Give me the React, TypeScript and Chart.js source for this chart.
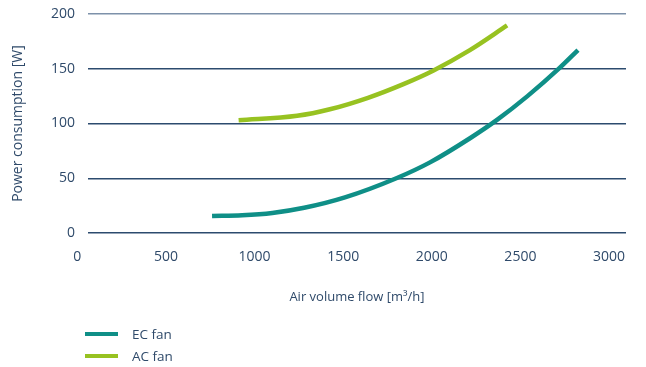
import React, { useEffect, useRef } from "react";
import { Chart, registerables } from "chart.js";

Chart.register(...registerables);

const ecFlow = [760, 930, 1100, 1280, 1510, 1800, 1990, 2220, 2370, 2540, 2720, 2825];
const ecPower = [15.5, 16.2, 18.3, 23, 32.5, 50, 64.5, 87, 103.5, 125, 150.5, 167];
const acFlow = [910, 1240, 1425, 1640, 1840, 2010, 2215, 2425];
const acPower = [103, 107, 113, 123.5, 136, 148.5, 167, 189.5];
const xTicks = [0, 500, 1000, 1500, 2000, 2500, 3000];
const yTicks = [0, 50, 100, 150, 200];
const seriesNames = ["EC fan", "AC fan"];
const seriesColors = ["#0f8f87", "#97c221"];

const FONT = "'Open Sans', sans-serif";
const TEXT = "#2f4a6a";

export default function App() {
  const ref = useRef<HTMLCanvasElement | null>(null);

  useEffect(() => {
    if (!ref.current) return;
    const chart = new Chart(ref.current, {
      type: "line",
      data: {
        datasets: [
          {
            label: seriesNames[0],
            data: ecFlow.map((x, i) => ({ x, y: ecPower[i] })),
            borderColor: seriesColors[0],
            borderWidth: 4.5,
            pointRadius: 0,
            cubicInterpolationMode: "monotone",
            borderCapStyle: "butt",
          },
          {
            label: seriesNames[1],
            data: acFlow.map((x, i) => ({ x, y: acPower[i] })),
            borderColor: seriesColors[1],
            borderWidth: 4.5,
            pointRadius: 0,
            cubicInterpolationMode: "monotone",
            borderCapStyle: "butt",
          },
        ],
      },
      options: {
        animation: false,
        responsive: false,
        layout: { padding: { top: 14, left: 0, right: 20, bottom: 0 } },
        plugins: { legend: { display: false }, tooltip: { enabled: false } },
        scales: {
          x: {
            type: "linear",
            min: 60,
            max: 3096,
            afterBuildTicks: (scale: any) => {
              scale.ticks = xTicks.map((v) => ({ value: v }));
            },
            afterFit: (scale: any) => {
              scale.height = 134;
            },
            grid: { display: false, drawTicks: false },
            border: { display: false },
            ticks: {
              color: TEXT,
              font: { family: FONT, size: 14 },
              padding: 16,
              maxRotation: 0,
              autoSkip: false,
              callback: (v: any) => String(v),
            },
            title: {
              display: true,
              text: "Air volume flow [m³/h]",
              color: TEXT,
              font: { family: FONT, size: 13 },
              padding: { top: 0, bottom: 62 },
            },
          },
          y: {
            type: "linear",
            min: 0,
            max: 200,
            afterBuildTicks: (scale: any) => {
              scale.ticks = yTicks.map((v) => ({ value: v }));
            },
            afterFit: (scale: any) => {
              scale.width = 88;
              scale.paddingTop = 0;
              scale.paddingBottom = 0;
            },
            grid: {
              drawTicks: false,
              color: (ctx: any) => (ctx.tick && ctx.tick.value === 200 ? "#7d91aa" : "#2c4b6e"),
              lineWidth: 1.5,
            },
            border: { display: false },
            ticks: {
              color: TEXT,
              font: { family: FONT, size: 14 },
              padding: 13,
              callback: (v: any) => String(v),
            },
            title: {
              display: true,
              text: "Power consumption [W]",
              color: TEXT,
              font: { family: FONT, size: 14 },
              padding: { top: 10, bottom: 0 },
            },
          },
        },
      },
    });
    return () => chart.destroy();
  }, []);

  return (
    <div style={{ position: "fixed", left: 0, top: 0, width: 646, height: 367, background: "#fff" }}>
      <canvas ref={ref} width={646} height={367} style={{ display: "block" }} />
      {seriesNames.map((name, i) => (
        <div
          key={name}
          style={{
            position: "absolute",
            left: 85,
            top: 325 + i * 22,
            height: 18,
            display: "flex",
            alignItems: "center",
            fontFamily: FONT,
            fontSize: 13.5,
            color: TEXT,
          }}
        >
          <span style={{ display: "inline-block", width: 33, height: 4.5, background: seriesColors[i], marginRight: 14 }} />
          <span>{name}</span>
        </div>
      ))}
    </div>
  );
}
